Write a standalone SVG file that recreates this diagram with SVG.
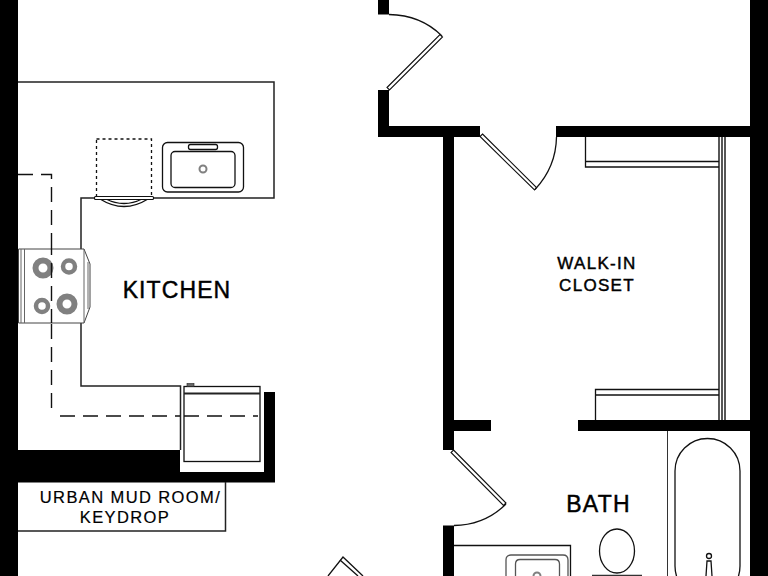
<svg xmlns="http://www.w3.org/2000/svg" width="768" height="576" viewBox="0 0 768 576">
<style>
.w{fill:#000}
.l{fill:none;stroke:#222;stroke-width:1.5}
.t{fill:none;stroke:#111;stroke-width:1.3}
.leaf{fill:#fff;stroke:#111;stroke-width:1.1}
.b{fill:#fff;stroke:#808080}
.d{fill:none;stroke:#111;stroke-width:1.4;stroke-dasharray:15 8}
text{font-family:"Liberation Sans",Arial,sans-serif;fill:#000;stroke:#000;stroke-width:.45;text-anchor:middle}
#mud-room text{stroke-width:.2}
</style>
<rect width="768" height="576" fill="#fff"/>
<g id="walls">
<rect class="w" x="0" y="0" width="18" height="576"/>
<rect class="w" x="750" y="0" width="18" height="576"/>
<path class="w" d="M18 450H180V472H264V392H275V482.500H18Z"/>
<rect class="w" x="378" y="0" width="11" height="14.500"/>
<path class="w" d="M378 90H389V126H480V137H454V420H491V431H454V450H443V137H378Z"/>
<rect class="w" x="556" y="126" width="194" height="11"/>
<rect class="w" x="578" y="420" width="172" height="11"/>
<rect class="w" x="443" y="525.500" width="11" height="50.500"/>
</g>
<g id="kitchen-counter">
<path class="l" d="M18 82H274V198H81V250M81 323V386H180.500V450"/>
<path d="M18 174.500H51.500V240" class="d"/>
<path d="M51.500 324V416" class="d"/>
<path d="M60 416H180" class="d"/>
</g>
<g id="sink">
<rect class="t" x="162.500" y="142.500" width="81" height="49.500" rx="5"/>
<rect class="t" x="171" y="151.500" width="64" height="36" rx="4"/>
<rect class="t" x="188.500" y="144.500" width="29" height="5" rx="2"/>
<circle class="b" cx="203" cy="169" r="3.500" stroke-width="2"/>
</g>
<g id="dishwasher">
<rect x="96.500" y="139" width="55" height="58" fill="none" stroke="#111" stroke-width="1.300" stroke-dasharray="3 3"/>
<path class="t" d="M100 199Q124 214 148 199M106 199Q124 208 142 199"/>
<rect class="leaf" x="94.500" y="196.500" width="59" height="3" rx="1"/>
</g>
<g id="range">
<path d="M18.500 249H84L90 264V307L84 323H18.500Z" fill="#fff" stroke="#444" stroke-width="1"/>
<path d="M21 249V323M24.500 249V323M84 249V323M88 262V309" fill="none" stroke="#666" stroke-width="1"/>
<circle class="b" cx="43" cy="268" r="7.500" stroke-width="6"/>
<circle class="b" cx="69" cy="266.500" r="6" stroke-width="4.500"/>
<circle class="b" cx="42" cy="306" r="6" stroke-width="4.500"/>
<circle class="b" cx="67" cy="304" r="7.500" stroke-width="6"/>
<path d="M51.500 240V323" class="d"/>
</g>
<g id="fridge">
<rect class="t" x="184" y="386.500" width="76" height="75"/>
<path d="M184 393.500H260" stroke="#222" stroke-width="1.800"/>
<rect x="187" y="383.500" width="7" height="3" fill="#666" stroke="#222" stroke-width=".6"/>
<path d="M184 416H258" class="d"/>
</g>
<g id="doors">
<path class="t" d="M389 14.500Q421 15 442 36"/>
<polygon class="leaf" points="387,87.500 440,34.500 442.500,37 389.500,90"/>
<polygon class="leaf" points="482.500,134 536.500,187.500 534.500,190 480,136.500"/>
<path class="t" d="M535 189.500Q556 167 556.500 137"/>
<polygon class="leaf" points="453.500,450 506,503 503.500,505.500 451,452.500"/>
<path class="t" d="M506 504Q485 525 454 525.500"/>
<path class="t" d="M328 576L343 557L363 576"/>
<path class="t" d="M340 560L358 576"/>
</g>
<g id="closet">
<path class="t" d="M585.500 137V167H719M585.500 161.500H719M595.500 420V389.500H719M595.500 395H719"/>
<path d="M719 137V420M722 137V420M725 137V420" fill="none" stroke="#111" stroke-width="1.400"/>
</g>
<g id="bath">
<path d="M667.500 431V576" fill="none" stroke="#333" stroke-width="1"/>
<rect class="t" x="675" y="438.500" width="65" height="160" rx="32.500"/>
<circle class="t" cx="709" cy="556" r="2.500"/>
<path class="t" d="M706 576L707 561H711L712 576"/>
<ellipse class="t" cx="617" cy="551" rx="17.500" ry="22"/>
<path d="M592 575.500H642" fill="none" stroke="#333" stroke-width="1.300"/>
<path d="M454 545.500H570.500V576" class="t"/>
<path d="M506 576V560Q506 555 511 555H563Q568 555 568 560V576" fill="none" stroke="#555" stroke-width="1.300"/>
<path d="M515.500 576V564Q515.500 559.500 520 559.500H555Q559.500 559.500 559.500 564V576" fill="none" stroke="#555" stroke-width="1.300"/>
<circle class="b" cx="537" cy="576" r="3.500" stroke-width="2"/>
</g>
<g id="mud-room">
<path class="l" d="M18 531H225.500V482"/>
<text x="130.500" y="503" font-size="16.500" letter-spacing="1.400">URBAN MUD ROOM/</text>
<text x="125" y="523" font-size="16.500" letter-spacing="1.400">KEYDROP</text>
</g>
<text x="177" y="297.500" font-size="23" letter-spacing="1.100">KITCHEN</text>
<text x="597" y="269" font-size="17" letter-spacing="1.300">WALK-IN</text>
<text x="597" y="291" font-size="17" letter-spacing="1.300">CLOSET</text>
<text x="598.500" y="512" font-size="23" letter-spacing="1.200">BATH</text>
</svg>
